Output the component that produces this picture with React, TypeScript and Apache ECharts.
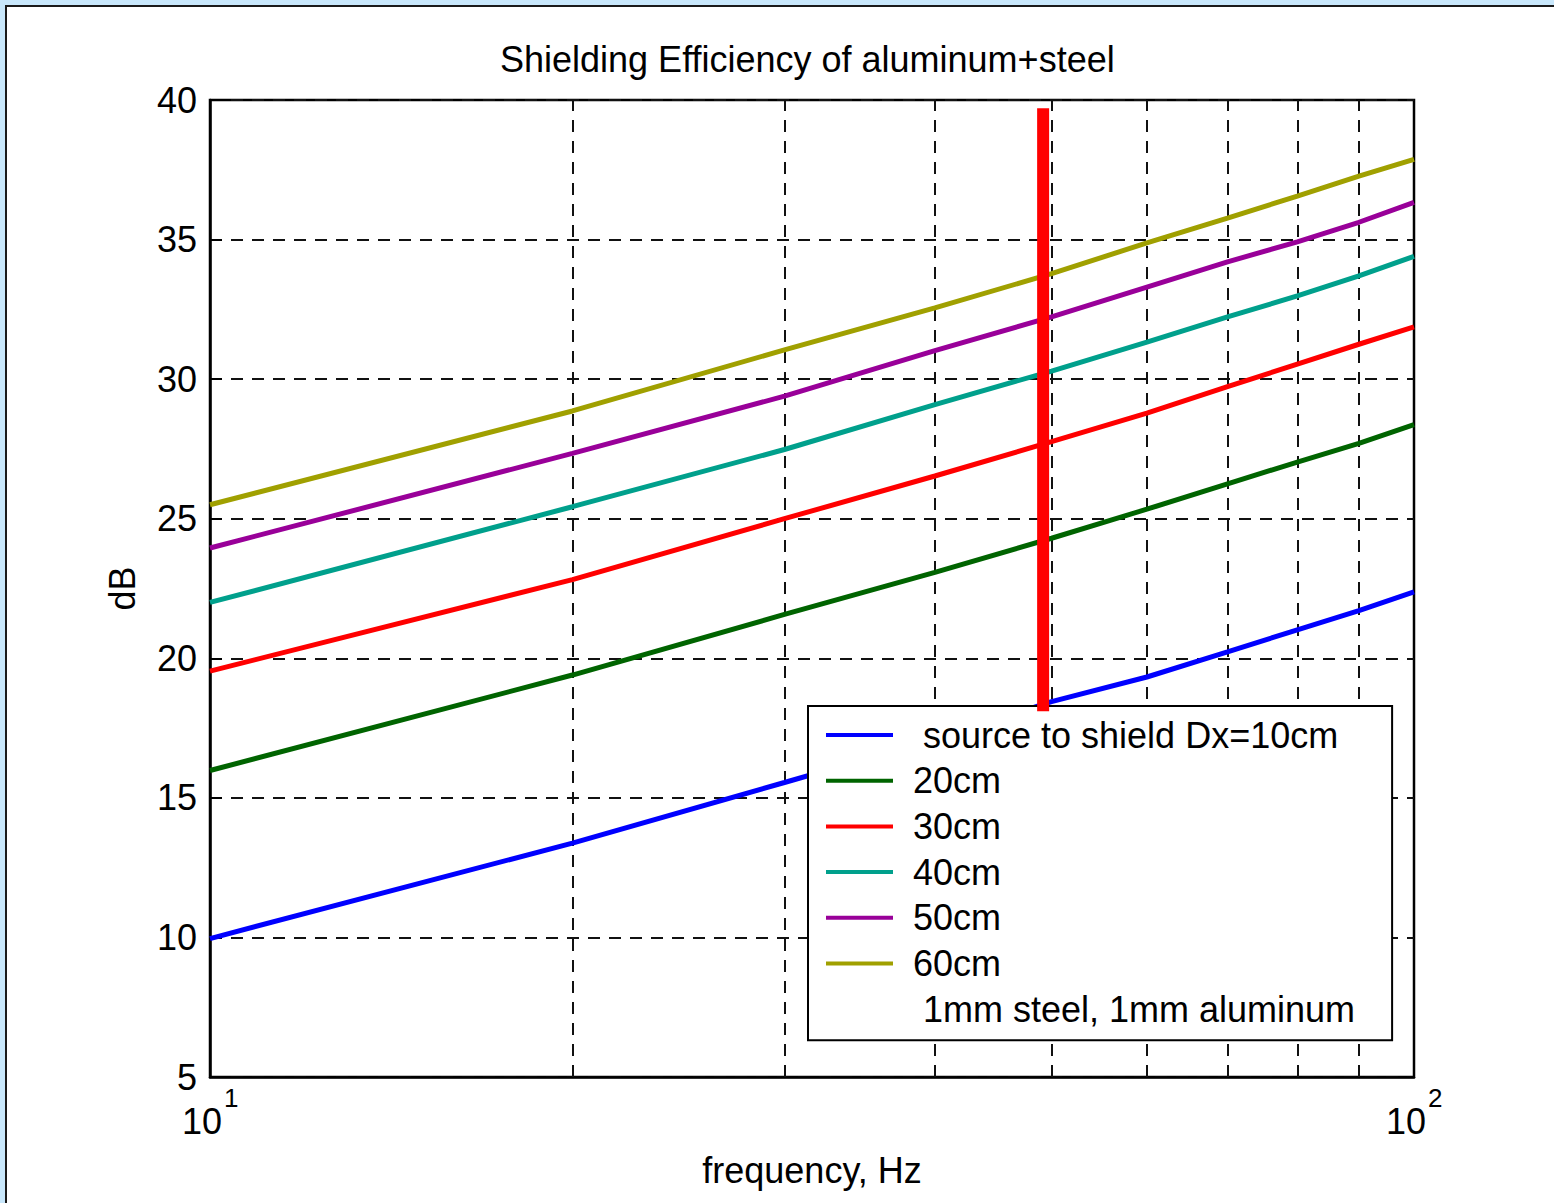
import React, { useEffect, useRef } from "react";
import * as echarts from "echarts";

const FONT = "'Liberation Sans', Arial, sans-serif";

const freq = [10, 20, 30, 40, 50, 60, 70, 80, 90, 100];
const dx10 = [9.96, 13.38, 15.55, 17.1, 18.45, 19.33, 20.23, 21.02, 21.71, 22.38];
const dx20 = [15.98, 19.4, 21.57, 23.08, 24.3, 25.34, 26.25, 27.03, 27.7, 28.37];
const dx30 = [19.54, 22.82, 25.0, 26.53, 27.76, 28.78, 29.73, 30.54, 31.25, 31.87];
const dx40 = [22.0, 25.43, 27.48, 29.09, 30.29, 31.33, 32.23, 32.98, 33.7, 34.4];
const dx50 = [23.95, 27.34, 29.39, 31.02, 32.23, 33.3, 34.2, 34.92, 35.62, 36.33];
const dx60 = [25.5, 28.86, 31.05, 32.55, 33.78, 34.88, 35.77, 36.56, 37.27, 37.87];

const seriesNames = [
  "\u00a0source to shield Dx=10cm",
  "20cm",
  "30cm",
  "40cm",
  "50cm",
  "60cm",
  "\u00a01mm steel, 1mm aluminum",
];
const seriesColors = ["#0000ff", "#006400", "#ff0000", "#00a08c", "#990099", "#a0a000", "rgba(0,0,0,0)"];
const seriesValues = [dx10, dx20, dx30, dx40, dx50, dx60, []];

const xGridFreqs = [20, 30, 40, 50, 60, 70, 80, 90];
const markerFreq = 49.2;
const markerTop = 39.7;
const markerBottom = 18.1;

const titleText = "Shielding Efficiency of aluminum+steel";
const xName = "frequency, Hz";
const yName = "dB";

export default function App() {
  const ref = useRef<HTMLDivElement>(null);
  useEffect(() => {
    if (!ref.current) return;
    const chart = echarts.init(ref.current, null, { renderer: "svg" });
    const dataSeries = seriesNames.map((name, i) => ({
      name,
      type: "line",
      data: (seriesValues[i] as number[]).map((v, j) => [freq[j], v]),
      symbol: "none",
      showSymbol: false,
      color: seriesColors[i],
      lineStyle: { width: 5, color: seriesColors[i] },
      z: 2,
      silent: true,
    }));
    const gridDash = { color: "#111", width: 2, type: [12, 9] };
    chart.setOption({
      animation: false,
      backgroundColor: "#fff",
      textStyle: { fontFamily: FONT },
      title: {
        text: titleText,
        left: 500,
        top: 41,
        padding: 0,
        textStyle: { fontSize: 36, fontWeight: "normal", color: "#000", fontFamily: FONT },
      },
      graphic: [
        { type: "rect", shape: { x: 0, y: 0, width: 1554, height: 5 }, style: { fill: "#c8e7fb" }, z: 10 },
        { type: "rect", shape: { x: 0, y: 0, width: 5, height: 1203 }, style: { fill: "#c8e7fb" }, z: 10 },
        { type: "rect", shape: { x: 5, y: 5, width: 1549, height: 2 }, style: { fill: "#1a1a1a" }, z: 10 },
        { type: "rect", shape: { x: 5, y: 5, width: 2, height: 1198 }, style: { fill: "#1a1a1a" }, z: 10 },
      ],
      grid: {
        left: 210,
        top: 100,
        width: 1204,
        height: 977,
        show: true,
        borderColor: "#000",
        borderWidth: 2.5,
        backgroundColor: "#fff",
      },
      legend: {
        data: seriesNames,
        orient: "vertical",
        left: 808,
        top: 706,
        padding: [11, 37, 13, 18],
        itemGap: 9.7,
        itemWidth: 67,
        itemHeight: 4,
        icon: "rect",
        backgroundColor: "#fff",
        borderColor: "#000",
        borderWidth: 2,
        borderRadius: 0,
        selectedMode: false,
        z: 4,
        textStyle: {
          fontSize: 36,
          lineHeight: 36,
          color: "#000",
          fontFamily: FONT,
          padding: [0, 0, 0, 15],
        },
      },
      xAxis: {
        type: "log",
        logBase: 10,
        min: 10,
        max: 100,
        name: xName,
        nameLocation: "middle",
        nameGap: 75,
        nameTextStyle: { fontSize: 36, color: "#000", fontFamily: FONT },
        axisLine: { show: true, lineStyle: { color: "#000", width: 2.5 } },
        axisTick: { show: true, inside: true, length: 12, lineStyle: { color: "#000", width: 2 } },
        splitLine: { show: false },
        axisLabel: {
          margin: 8,
          color: "#000",
          formatter: (v: number) => {
            const e = Math.round(Math.log10(v));
            return "{h| }{b|10}{s|" + e + "}";
          },
          rich: {
            h: { fontSize: 1, lineHeight: 54, color: "#000" },
            b: { fontSize: 36, lineHeight: 36, verticalAlign: "bottom", color: "#000", fontFamily: FONT },
            s: { fontSize: 26, lineHeight: 26, verticalAlign: "top", color: "#000", fontFamily: FONT, padding: [0, 0, 0, 2] },
          },
        },
      },
      yAxis: {
        type: "value",
        min: 5,
        max: 40,
        interval: 5,
        name: yName,
        nameLocation: "middle",
        nameGap: 70,
        nameTextStyle: { fontSize: 36, color: "#000", fontFamily: FONT },
        axisLine: { show: true, lineStyle: { color: "#000", width: 2.5 } },
        axisTick: { show: true, inside: true, length: 12, lineStyle: { color: "#000", width: 2 } },
        axisLabel: { fontSize: 36, color: "#000", margin: 13, fontFamily: FONT },
        splitLine: { show: true, lineStyle: gridDash },
      },
      series: [
        {
          name: "__grid",
          type: "line",
          data: [],
          z: 1,
          silent: true,
          markLine: {
            z: 1,
            silent: true,
            symbol: ["none", "none"],
            label: { show: false },
            lineStyle: gridDash,
            emphasis: { disabled: true },
            data: xGridFreqs.map((f) => ({ xAxis: f })),
          },
        },
        ...dataSeries,
        {
          name: "__marker",
          type: "line",
          data: [
            [markerFreq, markerTop],
            [markerFreq, markerBottom],
          ],
          symbol: "none",
          showSymbol: false,
          lineStyle: { width: 12, color: "#ff0000", cap: "butt" },
          color: "#ff0000",
          z: 5,
          silent: true,
        },
      ],
    });
    return () => chart.dispose();
  }, []);
  return (
    <div
      ref={ref}
      style={{ position: "absolute", left: 0, top: 0, width: 1554, height: 1203 }}
    />
  );
}
